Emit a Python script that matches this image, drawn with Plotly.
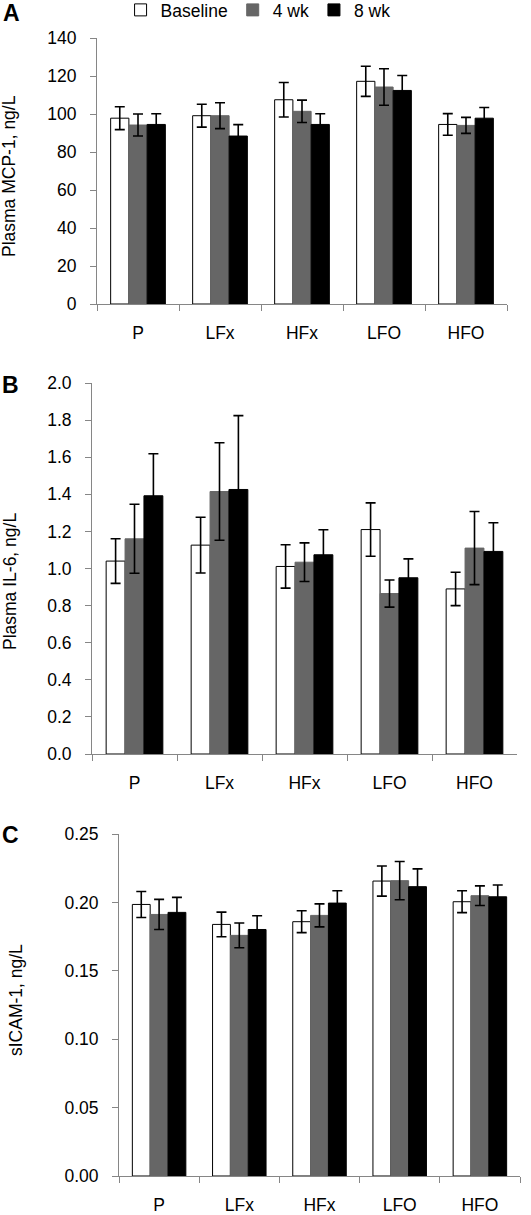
import plotly.graph_objects as go

W, H = 531, 1215

groups = ["P", "LFx", "HFx", "LFO", "HFO"]
series_names = ["Baseline", "4 wk", "8 wk"]

# Panel A: Plasma MCP-1, ng/L
mcp1_baseline = [97.8, 99.1, 107.5, 117.2, 94.5]
mcp1_4wk = [94.2, 99.1, 101.4, 114.2, 94.0]
mcp1_8wk = [94.5, 88.4, 94.5, 112.4, 97.8]
mcp1_baseline_se = [6.0, 6.0, 9.1, 7.9, 5.7]
mcp1_4wk_se = [5.8, 6.8, 5.9, 9.6, 4.2]
mcp1_8wk_se = [5.6, 6.0, 5.6, 7.9, 5.6]

# Panel B: Plasma IL-6, ng/L
il6_baseline = [1.04, 1.126, 1.011, 1.21, 0.89]
il6_4wk = [1.16, 1.415, 1.034, 0.865, 1.11]
il6_8wk = [1.392, 1.426, 1.074, 0.95, 1.092]
il6_baseline_se = [0.12, 0.15, 0.117, 0.144, 0.09]
il6_4wk_se = [0.186, 0.263, 0.104, 0.073, 0.197]
il6_8wk_se = [0.227, 0.398, 0.135, 0.102, 0.155]

# Panel C: sICAM-1, ng/L
icam_baseline = [0.1985, 0.1839, 0.1859, 0.2156, 0.2005]
icam_4wk = [0.1912, 0.1759, 0.1905, 0.2159, 0.2049]
icam_8wk = [0.1927, 0.1802, 0.1995, 0.2115, 0.2041]
icam_baseline_se = [0.0095, 0.009, 0.008, 0.011, 0.008]
icam_4wk_se = [0.011, 0.009, 0.0084, 0.014, 0.0072]
icam_8wk_se = [0.011, 0.010, 0.009, 0.013, 0.0086]

fills = ["#ffffff", "#666666", "#000000"]
edges = ["#000000", "#666666", "#000000"]

panels = [
    dict(vals=[mcp1_baseline, mcp1_4wk, mcp1_8wk],
         ses=[mcp1_baseline_se, mcp1_4wk_se, mcp1_8wk_se],
         xpx=(97, 507), ypx=(38, 304), yrange=[0, 140], dtick=20, fmt="d",
         title="Plasma MCP-1, ng/L", title_xy=(9, 176), letter="A", letter_xy=(11, 13)),
    dict(vals=[il6_baseline, il6_4wk, il6_8wk],
         ses=[il6_baseline_se, il6_4wk_se, il6_8wk_se],
         xpx=(92, 517), ypx=(383, 754), yrange=[0, 2.0], dtick=0.2, fmt=".1f",
         title="Plasma IL-6, ng/L", title_xy=(10, 582), letter="B", letter_xy=(10, 385)),
    dict(vals=[icam_baseline, icam_4wk, icam_8wk],
         ses=[icam_baseline_se, icam_4wk_se, icam_8wk_se],
         xpx=(119, 520), ypx=(834, 1176), yrange=[0, 0.25], dtick=0.05, fmt=".2f",
         title="sICAM-1, ng/L", title_xy=(16, 1000), letter="C", letter_xy=(10, 835)),
]

FONT = "Liberation Sans, Arial, sans-serif"
AXCOL = "#868686"
FS = 17.5

fig = go.Figure()
layout = dict(
    width=W, height=H,
    margin=dict(l=0, r=0, t=0, b=0, autoexpand=False),
    paper_bgcolor="white", plot_bgcolor="white",
    barmode="group", bargap=0.333, bargroupgap=0,
    font=dict(family=FONT, size=FS, color="black"),
    showlegend=True,
    legend=dict(orientation="h", x=0.486, xanchor="center", y=1 + 8 / H, yanchor="top",
                font=dict(size=FS), bgcolor="rgba(0,0,0,0)", itemclick=False,
                tracegroupgap=0, itemwidth=30, borderwidth=0),
    annotations=[],
)

for i, p in enumerate(panels):
    n = "" if i == 0 else str(i + 1)
    xa, ya = "x" + n, "y" + n
    for j, name in enumerate(series_names):
        fig.add_trace(go.Bar(
            x=groups, y=p["vals"][j], name=name,
            xaxis=xa, yaxis=ya,
            marker=dict(color=fills[j], line=dict(color=edges[j], width=1)),
            error_y=dict(type="data", array=p["ses"][j], visible=True,
                         color="black", thickness=1.6, width=5),
            legendgroup=name, showlegend=(i == 0),
        ))
    x0, x1 = p["xpx"]
    y0, y1 = p["ypx"]
    layout["xaxis" + n] = dict(
        domain=[x0 / W, x1 / W], anchor=ya,
        showline=True, linecolor=AXCOL, linewidth=1,
        ticks="outside", tickson="boundaries", ticklen=6, tickcolor=AXCOL,
        ticklabelstandoff=13, showgrid=False, zeroline=False,
        tickfont=dict(size=FS), fixedrange=True,
    )
    layout["yaxis" + n] = dict(
        domain=[1 - y1 / H, 1 - y0 / H], anchor=xa,
        range=p["yrange"], dtick=p["dtick"], tick0=0, tickformat=p["fmt"],
        showline=True, linecolor=AXCOL, linewidth=1,
        ticks="outside", ticklen=6, tickcolor=AXCOL,
        ticklabelstandoff=10, showgrid=False, zeroline=False,
        tickfont=dict(size=FS), fixedrange=True,
    )
    tx, ty = p["title_xy"]
    layout["annotations"].append(dict(
        text=p["title"], textangle=-90, xref="paper", yref="paper",
        x=tx / W, y=1 - ty / H, xanchor="center", yanchor="middle",
        showarrow=False, font=dict(size=FS),
    ))
    lx, ly = p["letter_xy"]
    layout["annotations"].append(dict(
        text="<b>" + p["letter"] + "</b>", xref="paper", yref="paper",
        x=lx / W, y=1 - ly / H, xanchor="center", yanchor="middle",
        showarrow=False, font=dict(size=23),
    ))

fig.update_layout(**layout)
fig.write_html(
    "out.html",
    config={"displayModeBar": False},
    post_script="document.body.style.margin='0';document.body.style.padding='0';",
)
